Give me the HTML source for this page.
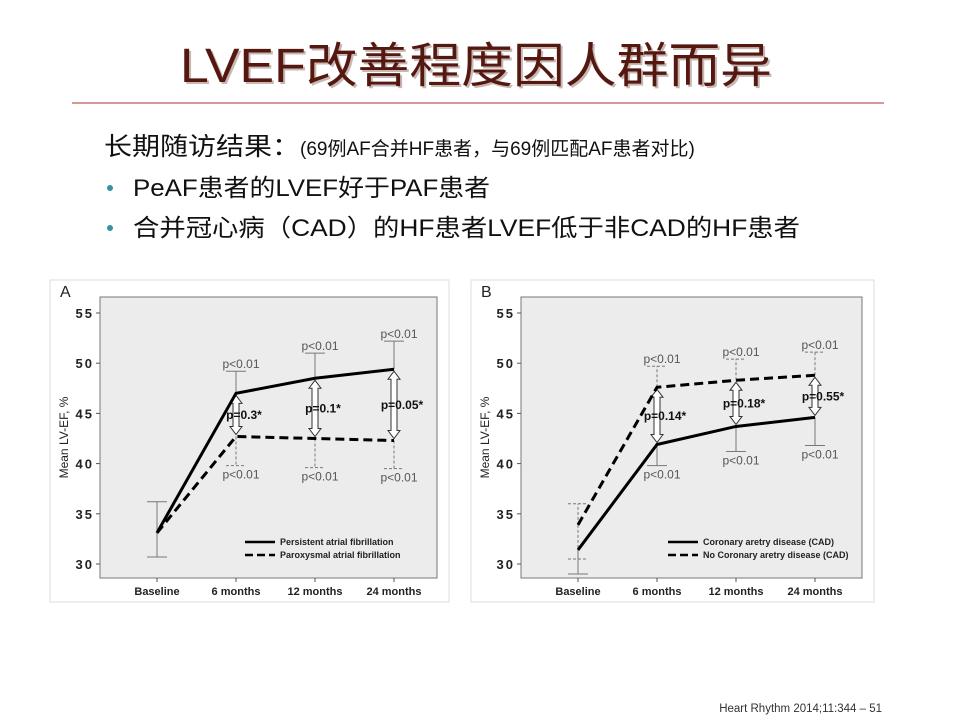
<!DOCTYPE html>
<html><head><meta charset="utf-8"><style>
body{margin:0;background:#fff;}
svg{display:block;}
</style></head><body>
<svg id="page" width="960" height="720" viewBox="0 0 960 720" xmlns="http://www.w3.org/2000/svg" font-family="Liberation Sans, Noto Sans CJK SC, sans-serif">
<text x="182" y="84" font-size="48" fill="#c8b8b4" textLength="592" lengthAdjust="spacingAndGlyphs">LVEF改善程度因人群而异</text>
<text x="180" y="82" font-size="48" fill="#551810" textLength="592" lengthAdjust="spacingAndGlyphs">LVEF改善程度因人群而异</text>
<line x1="72" y1="103" x2="884" y2="103" stroke="#b03030" stroke-width="1"/>
<text x="104" y="155" font-size="25" fill="#111"><tspan textLength="196" lengthAdjust="spacingAndGlyphs">长期随访结果：</tspan><tspan font-size="19" dx="0">(69例AF合并HF患者，与69例匹配AF患者对比)</tspan></text>
<circle cx="110" cy="188" r="3" fill="#3a8fa8"/>
<text x="133" y="196" font-size="24" fill="#111" textLength="357" lengthAdjust="spacingAndGlyphs">PeAF患者的LVEF好于PAF患者</text>
<circle cx="110" cy="228" r="3" fill="#3a8fa8"/>
<text x="133" y="236" font-size="24" fill="#111" textLength="667" lengthAdjust="spacingAndGlyphs">合并冠心病（CAD）的HF患者LVEF低于非CAD的HF患者</text>
<g id="chartA"></g>
<g id="chartB"></g>
<text x="882" y="712" font-size="11.5" fill="#333" text-anchor="end">Heart Rhythm 2014;11:344 – 51</text>
</svg>
<script>
const categories = ["Baseline","6 months","12 months","24 months"];
const yTicks = [30,35,40,45,50,55];
const aSolid = [33.1,47.0,48.5,49.4];
const aDashed = [33.1,42.7,42.5,42.3];
const aSolidErrTop = [36.2,49.2,51.0,52.2];
const aDashedErrBot = [30.7,39.8,39.6,39.5];
const aSolidLabels = ["","p<0.01","p<0.01","p<0.01"];
const aDashedLabels = ["","p<0.01","p<0.01","p<0.01"];
const aCompare = ["","p=0.3*","p=0.1*","p=0.05*"];
const aLegend = ["Persistent atrial fibrillation","Paroxysmal atrial fibrillation"];
const bSolid = [31.4,41.9,43.7,44.6];
const bDashed = [33.9,47.6,48.3,48.8];
const bSolidErrBot = [29.0,39.8,41.2,41.8];
const bDashedErrTop = [36.0,49.7,50.4,51.1];
const bDashedErrBot = [30.5,45.0,45.0,45.0];
const bCompare = ["","p=0.14*","p=0.18*","p=0.55*"];
const bLegend = ["Coronary aretry disease (CAD)","No Coronary aretry disease (CAD)"];
const NS="http://www.w3.org/2000/svg";
function mk(p,tag,attrs,txt){const e=document.createElementNS(NS,tag);for(const k in attrs)e.setAttribute(k,attrs[k]);if(txt!==undefined)e.textContent=txt;p.appendChild(e);return e;}
function draw(g,o){
  const x0=o.x0, top=297, bot=578, right=o.right;
  const xs=i=>o.xc[0]+i*(o.xc[1]-o.xc[0]);
  const y=v=>564-(v-30)*(564-313)/25;
  let e=mk(g,'rect',{x:x0-50,y:280,width:right-x0+62,height:322,fill:'#fff',stroke:'#ddd'});
  
  e=mk(g,'text',{x:x0-40,y:297,'font-size':16,fill:'#222'},o.letter);
  
  e=mk(g,'rect',{x:x0,y:top,width:right-x0,height:bot-top,fill:'#ececec',stroke:'#777'});
  
  yTicks.forEach(t=>{
    let l=mk(g,'line',{x1:x0-4,x2:x0,y1:y(t),y2:y(t),stroke:'#555'});
    
    let tx=mk(g,'text',{x:x0-6,y:y(t)+5,'font-size':13,'font-weight':'bold','text-anchor':'end',fill:'#222','letter-spacing':'2'},String(t));
    
  });
  e=mk(g,'text',{x:0,y:0,'font-size':12,fill:'#222','text-anchor':'middle',transform:`translate(${x0-32},${(top+bot)/2}) rotate(-90)`},'Mean LV-EF, %');
  
  categories.forEach((c,i)=>{
    let tx=mk(g,'text',{x:xs(i),y:bot+17,'font-size':11,'font-weight':'bold','text-anchor':'middle',fill:'#222'},c);
    
    let l=mk(g,'line',{x1:xs(i),x2:xs(i),y1:bot,y2:bot+4,stroke:'#555'});
    
  });
  o.errs.forEach(er=>{
    er.vals.forEach((v,i)=>{
      if(er.only!==undefined && er.only!==i) return;
      const base=er.from[i];
      const da=er.dash?'3,2':'none';
      let l=mk(g,'line',{x1:xs(i),x2:xs(i),y1:y(base),y2:y(v),stroke:'#777','stroke-dasharray':da});
      
      let c=mk(g,'line',{x1:xs(i)-10,x2:xs(i)+10,y1:y(v),y2:y(v),stroke:'#777','stroke-dasharray':da});
      
      if(er.labels&&er.labels[i]){
        let t=mk(g,'text',{x:xs(i)+5,y:er.up?y(v)-3:y(v)+13,'font-size':12,'text-anchor':'middle',fill:'#555'},er.labels[i]);
        
      }
    });
  });
  o.hi.forEach((v,i)=>{
    if(!o.cmp[i])return;
    const ya=y(v)+2, yb=y(o.lo[i])-2, cx=xs(i);
    const d=`M${cx},${ya} L${cx+6},${ya+8} L${cx+3},${ya+8} L${cx+3},${yb-8} L${cx+6},${yb-8} L${cx},${yb} L${cx-6},${yb-8} L${cx-3},${yb-8} L${cx-3},${ya+8} L${cx-6},${ya+8} Z`;
    let p=mk(g,'path',{d:d,fill:'#fff',stroke:'#333','stroke-width':1});
    
    let t=mk(g,'text',{x:cx+8,y:(ya+yb)/2+4,'font-size':12,'font-weight':'bold','text-anchor':'middle',fill:'#111'},o.cmp[i]);
    
  });
  const pts=a=>a.map((v,i)=>xs(i)+','+y(v)).join(' ');
  let s=mk(g,'polyline',{points:pts(o.solid),fill:'none',stroke:'#000','stroke-width':3});
  
  let d=mk(g,'polyline',{points:pts(o.dashed),fill:'none',stroke:'#000','stroke-width':3,'stroke-dasharray':'9,5'});
  
  const lx=o.legX, ly=[545,558];
  [0,1].forEach(k=>{
    let l=mk(g,'line',{x1:lx,x2:lx+30,y1:ly[k]-3,y2:ly[k]-3,stroke:'#000','stroke-width':2.5,'stroke-dasharray':k?'8,4':'none'});
    
    let t=mk(g,'text',{x:lx+35,y:ly[k],'font-size':9,'font-weight':'bold',fill:'#222'},o.legend[k]);
    
  });
}
draw(document.getElementById('chartA'),{x0:100,right:437,xc:[157,236],letter:'A',solid:aSolid,dashed:aDashed,
  hi:aSolid,lo:aDashed,cmp:aCompare,legend:aLegend,legX:245,
  errs:[{vals:aSolidErrTop,from:aSolid,labels:aSolidLabels,up:true,dash:false},
        {vals:aDashedErrBot,from:aDashed,labels:aDashedLabels,up:false,dash:true},
        {vals:aDashedErrBot,from:aSolid,only:0,dash:false}]});
draw(document.getElementById('chartB'),{x0:521,right:862,xc:[578,657],letter:'B',solid:bSolid,dashed:bDashed,
  hi:bDashed,lo:bSolid,cmp:bCompare,legend:bLegend,legX:668,
  errs:[{vals:bSolidErrBot,from:bSolid,labels:["","p<0.01","p<0.01","p<0.01"],up:false,dash:false},
        {vals:bDashedErrTop,from:bDashed,labels:["","p<0.01","p<0.01","p<0.01"],up:true,dash:true},
        {vals:bDashedErrBot,from:bDashed,only:0,dash:true}]});
</script>
</body></html>
